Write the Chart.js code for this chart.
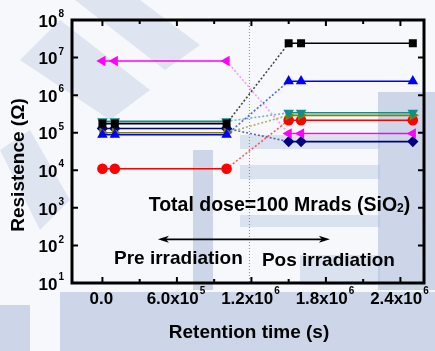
<!DOCTYPE html>
<html>
<head>
<meta charset="utf-8">
<script src="https://cdn.jsdelivr.net/npm/chart.js@4.4.0/dist/chart.umd.min.js"></script>
<style>
  html, body { margin:0; padding:0; background:#fff; }
  #wrap { width:435px; height:351px; }
</style>
</head>
<body>
<div id="wrap"><canvas id="chart" width="435" height="351"></canvas></div>
<script>
// 데이터 ----------------
const timeData = [0, 1e5, 1e6, 1.5e6, 1.6e6, 2.5e6];   // s
const blackSq   = [1.75e5, 1.75e5, 1.75e5, 2.4e7, 2.4e7, 2.4e7];
const blueUp    = [8.8e4, 8.8e4, 8.8e4, 2.35e6, 2.35e6, 2.35e6];
const tealDown  = [2.0e5, 2.0e5, 2.0e5, 3.4e5, 3.4e5, 3.4e5];
const oliveRight= [1.0e5, 1.0e5, 1.0e5, 2.9e5, 2.9e5, 2.9e5];
const redCircle = [1.1e4, 1.1e4, 1.1e4, 2.15e5, 2.15e5, 2.15e5];
const magLeft   = [8.1e6, 8.1e6, 8.1e6, 9.5e4, 9.5e4, 9.5e4];
const navyDia   = [1.3e5, 1.3e5, 1.3e5, 5.8e4, 5.8e4, 5.8e4];

const yTickExp = [1, 2, 3, 4, 5, 6, 7, 8];
const xTickVal = [0, 6e5, 1.2e6, 1.8e6, 2.4e6];
const xTickMant = ['0.0', '6.0', '1.2', '1.8', '2.4'];
const xTickExp = ['', '5', '6', '6', '6'];

const irradTime = 1.18e6;

function makeSet(label, values, color, dotColor, style, rot){
  return {
    label: label,
    data: values.map((v, i) => ({x: timeData[i], y: v})),
    borderColor: color,
    backgroundColor: color,
    pointBorderColor: color,
    pointBackgroundColor: color,
    pointStyle: style,
    pointRotation: rot || 0,
    pointRadius: 4.5,
    pointHoverRadius: 4.5,
    borderWidth: 1.6,
    fill: false,
    tension: 0,
    segment: {
      borderDash: c => c.p0DataIndex === 2 ? [2, 2] : undefined,
      borderColor: c => c.p0DataIndex === 2 ? dotColor : undefined
    }
  };
}

// 배경 워터마크 (대충)
const bgPlugin = {
  id: 'bg',
  beforeDraw(chart){
    const c = chart.ctx;
    c.save();
    c.fillStyle = '#f7f8fb';
    c.fillRect(0, 0, chart.width, chart.height);
    c.fillStyle = 'rgba(176,192,222,0.6)';
    c.fillRect(60, 292, 375, 59);
    c.fillRect(0, 305, 30, 46);
    c.fillRect(378, 92, 57, 198);
    c.fillRect(193, 150, 20, 140);
    c.fillStyle = 'rgba(176,192,222,0.4)';
    c.fillRect(240, 135, 140, 14);
    c.fillRect(240, 165, 140, 14);
    c.fillRect(240, 215, 140, 12);
    c.fillRect(300, 255, 80, 30);
    c.fillStyle = 'rgba(176,192,222,0.35)';
    c.beginPath();
    c.moveTo(20, 60); c.lineTo(60, 20); c.lineTo(150, 90); c.lineTo(110, 120); c.closePath();
    c.fill();
    c.beginPath();
    c.moveTo(75, 0); c.lineTo(140, 0); c.lineTo(200, 45); c.lineTo(165, 70); c.closePath();
    c.fill();
    c.beginPath();
    c.moveTo(0, 150); c.lineTo(30, 130); c.lineTo(70, 200); c.lineTo(40, 230); c.closePath();
    c.fill();
    c.restore();
  }
};

function drawPow(c, mant, exp, x, y, size, align){
  c.font = 'bold ' + size + 'px "Liberation Sans", Arial, sans-serif';
  const w1 = c.measureText(mant).width;
  const supSize = Math.round(size * 0.6);
  c.font = 'bold ' + supSize + 'px "Liberation Sans", Arial, sans-serif';
  const w2 = exp ? c.measureText(exp).width + 1 : 0;
  const total = w1 + w2;
  let left = align === 'right' ? x - total : x - total / 2;
  c.textAlign = 'left';
  c.textBaseline = 'middle';
  c.font = 'bold ' + size + 'px "Liberation Sans", Arial, sans-serif';
  c.fillText(mant, left, y);
  if (exp){
    c.font = 'bold ' + supSize + 'px "Liberation Sans", Arial, sans-serif';
    c.fillText(exp, left + w1 + 1, y - size * 0.45);
  }
}

function arrowHead(c, x, y, dir){
  c.beginPath();
  c.moveTo(x, y);
  c.lineTo(x - dir * 11, y - 3.5);
  c.lineTo(x - dir * 8, y);
  c.lineTo(x - dir * 11, y + 3.5);
  c.closePath();
  c.fill();
}

const framePlugin = {
  id: 'frame',
  beforeDatasetsDraw(chart){
    const c = chart.ctx, a = chart.chartArea;
    const xs = chart.scales.x;
    const px = xs.getPixelForValue(irradTime);
    c.save();
    c.strokeStyle = '#8a8a8a';
    c.lineWidth = 1;
    c.setLineDash([1, 2]);
    c.beginPath();
    c.moveTo(px + 0.5, a.top);
    c.lineTo(px + 0.5, a.bottom);
    c.stroke();
    c.restore();
  },
  afterDraw(chart){
    const c = chart.ctx, a = chart.chartArea;
    const xs = chart.scales.x, ys = chart.scales.y;
    c.save();
    c.fillStyle = '#000';
    c.strokeStyle = '#000';
    // 틱
    c.lineWidth = 2;
    for (let v = 0; v <= 2.4e6; v += 3e5){
      const p = xs.getPixelForValue(v);
      const len = (v % 6e5 === 0) ? 6 : 4;
      c.beginPath();
      c.moveTo(p, a.bottom); c.lineTo(p, a.bottom - len);
      c.moveTo(p, a.top); c.lineTo(p, a.top + len);
      c.stroke();
    }
    yTickExp.forEach(e => {
      const p = ys.getPixelForValue(Math.pow(10, e));
      c.beginPath();
      c.moveTo(a.left, p); c.lineTo(a.left + 6, p);
      c.moveTo(a.right, p); c.lineTo(a.right - 6, p);
      c.stroke();
    });
    // 테두리
    c.lineWidth = 3;
    c.strokeRect(a.left, a.top, a.right - a.left, a.bottom - a.top);

    // 틱 라벨
    yTickExp.forEach(e => {
      const p = ys.getPixelForValue(Math.pow(10, e));
      drawPow(c, '10', String(e), a.left - 8, p + 2, 17, 'right');
    });
    xTickVal.forEach((v, i) => {
      const p = xs.getPixelForValue(v);
      drawPow(c, xTickExp[i] ? xTickMant[i] + 'x10' : xTickMant[i], xTickExp[i], p - 1, a.bottom + 16, 17, 'center');
    });

    // 축 제목
    c.font = 'bold 19px "Liberation Sans", Arial, sans-serif';
    c.textAlign = 'center';
    c.textBaseline = 'middle';
    c.fillText('Retention time (s)', (a.left + a.right) / 2 + 1, 333);
    c.save();
    c.translate(19, 165);
    c.rotate(-Math.PI / 2);
    c.fillText('Resistence (\u03A9)', 0, 0);
    c.restore();

    // 주석
    const tx = xs.getPixelForValue(1.426e6), ty = ys.getPixelForValue(1170);
    c.font = 'bold 19.5px "Liberation Sans", Arial, sans-serif';
    const main = 'Total dose=100 Mrads (SiO';
    const wMain = c.measureText(main).width;
    c.font = 'bold 12px "Liberation Sans", Arial, sans-serif';
    const wSub = c.measureText('2').width;
    c.font = 'bold 19.5px "Liberation Sans", Arial, sans-serif';
    const wEnd = c.measureText(')').width;
    let left = tx - (wMain + wSub + wEnd) / 2;
    c.textAlign = 'left';
    c.fillText(main, left, ty);
    c.font = 'bold 12px "Liberation Sans", Arial, sans-serif';
    c.fillText('2', left + wMain, ty + 3);
    c.font = 'bold 19.5px "Liberation Sans", Arial, sans-serif';
    c.fillText(')', left + wMain + wSub, ty);

    c.font = 'bold 19px "Liberation Sans", Arial, sans-serif';
    c.textAlign = 'center';
    c.fillText('Pre irradiation', xs.getPixelForValue(6.12e5), ys.getPixelForValue(45));
    c.fillText('Pos irradiation', xs.getPixelForValue(1.82e6), ys.getPixelForValue(40));

    // 화살표
    const ay = ys.getPixelForValue(145);
    const ax1 = xs.getPixelForValue(4.47e5), ax2 = xs.getPixelForValue(1.832e6);
    c.lineWidth = 1.6;
    c.beginPath();
    c.moveTo(ax1 + 6, ay); c.lineTo(ax2 - 6, ay);
    c.stroke();
    arrowHead(c, ax1, ay, -1);
    arrowHead(c, ax2, ay, 1);
    c.restore();
  }
};

new Chart(document.getElementById('chart'), {
  type: 'line',
  data: {
    datasets: [
      makeSet('black', blackSq, '#000000', 'rgba(40,40,40,0.85)', 'rect'),
      makeSet('blue', blueUp, '#0000ff', 'rgba(40,60,255,0.8)', 'triangle'),
      makeSet('teal', tealDown, '#138c8c', 'rgba(19,140,140,0.6)', 'triangle', 180),
      makeSet('olive', oliveRight, '#808000', 'rgba(128,128,0,0.6)', 'triangle', 90),
      makeSet('red', redCircle, '#ff0000', 'rgba(255,40,40,0.75)', 'circle'),
      makeSet('magenta', magLeft, '#ff00ff', 'rgba(255,120,255,0.75)', 'triangle', -90),
      makeSet('navy', navyDia, '#000080', 'rgba(0,0,128,0.6)', 'rectRot')
    ]
  },
  options: {
    responsive: false,
    animation: false,
    layout: { padding: { left: 72, right: 11, top: 20, bottom: 68 } },
    scales: {
      x: {
        type: 'linear',
        min: -2.45e5,
        max: 2.59e6,
        grid: { display: false, drawTicks: false },
        border: { display: false },
        ticks: { display: false }
      },
      y: {
        type: 'logarithmic',
        min: 10,
        max: 1e8,
        grid: { display: false, drawTicks: false },
        border: { display: false },
        ticks: { display: false }
      }
    },
    plugins: {
      legend: { display: false },
      tooltip: { enabled: false }
    }
  },
  plugins: [bgPlugin, framePlugin]
});
</script>
</body>
</html>
